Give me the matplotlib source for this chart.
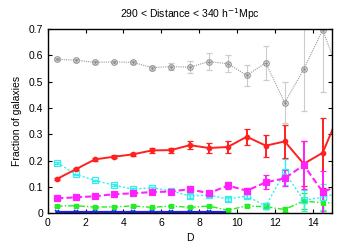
import matplotlib
matplotlib.use("Agg")
import matplotlib.pyplot as plt
import numpy as np

plt.rcParams['font.family'] = ['Liberation Sans', 'DejaVu Sans']

# bin centres (last one lies beyond the x range and gets clipped)
D = [0.5, 1.5, 2.5, 3.5, 4.5, 5.5, 6.5, 7.5, 8.5, 9.5, 10.5, 11.5, 12.5, 13.5, 14.5, 15.5]

gray_y = [0.585, 0.581, 0.573, 0.575, 0.573, 0.553, 0.557, 0.555, 0.576, 0.568,
          0.524, 0.571, 0.420, 0.547, 0.696, 0.506]
gray_e = [0.004, 0.005, 0.005, 0.005, 0.006, 0.008, 0.012, 0.022, 0.032, 0.032,
          0.040, 0.065, 0.078, 0.160, 0.234, 0.25]

red_y = [0.131, 0.168, 0.205, 0.215, 0.224, 0.239, 0.240, 0.259, 0.248, 0.252,
         0.291, 0.257, 0.273, 0.188, 0.230, 0.40]
red_e = [0.004, 0.005, 0.005, 0.006, 0.007, 0.009, 0.010, 0.016, 0.020, 0.023,
         0.030, 0.042, 0.062, 0.085, 0.133, 0.15]

cyan_y = [0.192, 0.148, 0.125, 0.107, 0.092, 0.097, 0.086, 0.066, 0.070, 0.054,
          0.066, 0.028, 0.156, 0.050, 0.061, 0.080]
cyan_e = [0.003, 0.003, 0.003, 0.004, 0.004, 0.005, 0.005, 0.006, 0.007, 0.007,
          0.008, 0.010, 0.050, 0.040, 0.050, 0.06]

mag_y = [0.057, 0.061, 0.065, 0.073, 0.076, 0.081, 0.083, 0.092, 0.076, 0.106,
         0.086, 0.118, 0.133, 0.183, 0.082, 0.108]
mag_e = [0.002, 0.003, 0.003, 0.003, 0.004, 0.004, 0.005, 0.007, 0.008, 0.014,
         0.012, 0.026, 0.030, 0.090, 0.080, 0.09]

green_y = [0.028, 0.029, 0.024, 0.025, 0.028, 0.023, 0.028, 0.023, 0.028, 0.012,
           0.029, 0.025, 0.015, 0.047, 0.040, 0.040]
green_e = [0.002, 0.002, 0.002, 0.002, 0.002, 0.003, 0.003, 0.004, 0.004, 0.004,
           0.006, 0.010, 0.008, 0.030, 0.030, 0.03]

D_blue = [0.5, 1.5, 2.5, 3.5, 4.5, 5.5, 6.5, 7.5, 8.5, 9.5]
blue_y = [0.004, 0.004, 0.004, 0.004, 0.004, 0.004, 0.004, 0.004, 0.004, 0.004]

fig = plt.figure(figsize=(3.5, 2.45), dpi=100)
ax = fig.add_axes([0.136, 0.129, 0.813, 0.753])

def series(x, y, e, color, ls, marker, mfc, ms, lw, elw, ecolor=None):
    ax.errorbar(x, y, yerr=e, color=color, linestyle=ls, linewidth=lw,
                marker=marker, markerfacecolor=mfc, markeredgecolor=color,
                markersize=ms, markeredgewidth=0.9, elinewidth=elw,
                capsize=2, capthick=elw, ecolor=ecolor or color)

series(D, gray_y, gray_e, "#9a9a9a", (0, (1, 1)), "o", "none", 4, 0.8, 0.8,
       ecolor="#cccccc")
ax.plot(D, gray_y, linestyle="none", marker="o", color="#8a8a8a", markersize=1)
series(D, green_y, green_e, "#22ee22", (0, (4, 1.5, 1, 1.5)), "s", "#22ee22", 3.5, 1.0, 1.0)
series(D, cyan_y, cyan_e, "#33eeee", (0, (1.5, 1.5)), "s", "none", 4, 1.0, 1.0)
series(D, red_y, red_e, "#ff2020", "-", "o", "#ff2020", 3.2, 1.4, 1.4)
series(D, mag_y, mag_e, "#ff22ff", (0, (3, 1.5)), "s", "#ff22ff", 4.3, 1.5, 1.4)
ax.plot(D_blue, blue_y, color="#2222ee", linewidth=1.6, marker="x",
        markersize=3.5, markeredgewidth=1.2)

ax.set_xlim(0, 15)
ax.set_ylim(0, 0.7)
ax.set_xticks([0, 2, 4, 6, 8, 10, 12, 14])
ax.set_yticks([0, 0.1, 0.2, 0.3, 0.4, 0.5, 0.6, 0.7])
ax.set_yticklabels(["0", "0.1", "0.2", "0.3", "0.4", "0.5", "0.6", "0.7"])
ax.tick_params(direction="in", top=True, right=True, labelsize=7.5,
               length=3, width=0.8, pad=3)
for s in ax.spines.values():
    s.set_linewidth(1.0)

ax.set_xlabel("D", fontsize=7.5, labelpad=4)
ax.set_ylabel("Fraction of galaxies", fontsize=7.5, labelpad=5)
ax.set_title("290 < Distance < 340 h$^{-1}$Mpc", fontsize=7.5, pad=8)

fig.savefig("out.png", dpi=100)
